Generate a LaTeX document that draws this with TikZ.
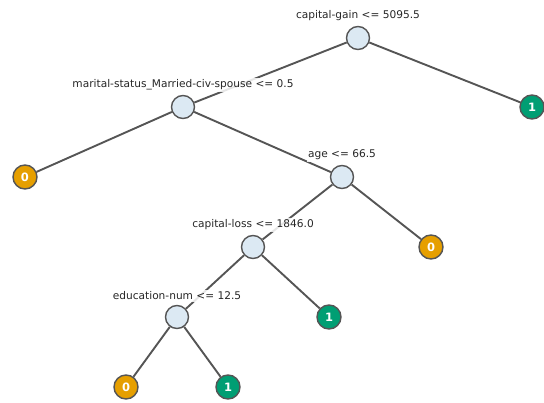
\documentclass[tikz,border=0pt]{standalone}
\usepackage{fontspec}
\setmainfont{DejaVu Sans}
\usetikzlibrary{positioning}
\definecolor{splitfill}{HTML}{DCE9F3}
\definecolor{edgegray}{HTML}{555555}
\definecolor{cls0}{HTML}{E69F00}
\definecolor{cls1}{HTML}{009E73}
\tikzset{
  split/.style={circle,draw=edgegray,line width=1.4pt,fill=splitfill,minimum size=23pt,inner sep=0pt},
  leaf/.style={circle,draw=edgegray,line width=1.4pt,minimum size=24pt,inner sep=0pt,
    text=white,font=\fontsize{11.5}{13}\selectfont\bfseries},
  zero/.style={leaf,fill=cls0},
  one/.style={leaf,fill=cls1},
  rule/.style={fill=white,fill opacity=0.85,text opacity=1,inner sep=1.5pt,
    text=black!85,font=\fontsize{10.6}{12}\selectfont},
  edge/.style={draw=edgegray,line width=1.9pt}
}
\begin{document}
\begin{tikzpicture}[x=1pt,y=-1pt]
  \useasboundingbox (0,0) rectangle (544,402);
  % split nodes
  \node[split] (root) at (358,38) {};
  \node[split] (ms) at (183,107) {};
  \node[split] (age) at (342,177) {};
  \node[split] (loss) at (253,247) {};
  \node[split] (edu) at (177,317) {};
  % leaves
  \node[one] (l1) at (532,107) {1};
  \node[zero] (l2) at (25,177) {0};
  \node[zero] (l3) at (431,247) {0};
  \node[one] (l4) at (329,317) {1};
  \node[zero] (l5) at (126,387) {0};
  \node[one] (l6) at (228,387) {1};
  % branches
  \foreach \a/\b in {root/ms, root/l1, ms/l2, ms/age, age/loss, age/l3,
                     loss/edu, loss/l4, edu/l5, edu/l6}
    \draw[edge] (\a) -- (\b);
  % split rules
  \node[rule, above=3pt of root] {capital-gain <= 5095.5};
  \node[rule, above=3pt of ms] {marital-status\_Married-civ-spouse <= 0.5};
  \node[rule, above=3pt of age] {age <= 66.5};
  \node[rule, above=3pt of loss] {capital-loss <= 1846.0};
  \node[rule, above=3pt of edu] {education-num <= 12.5};
\end{tikzpicture}
\end{document}
